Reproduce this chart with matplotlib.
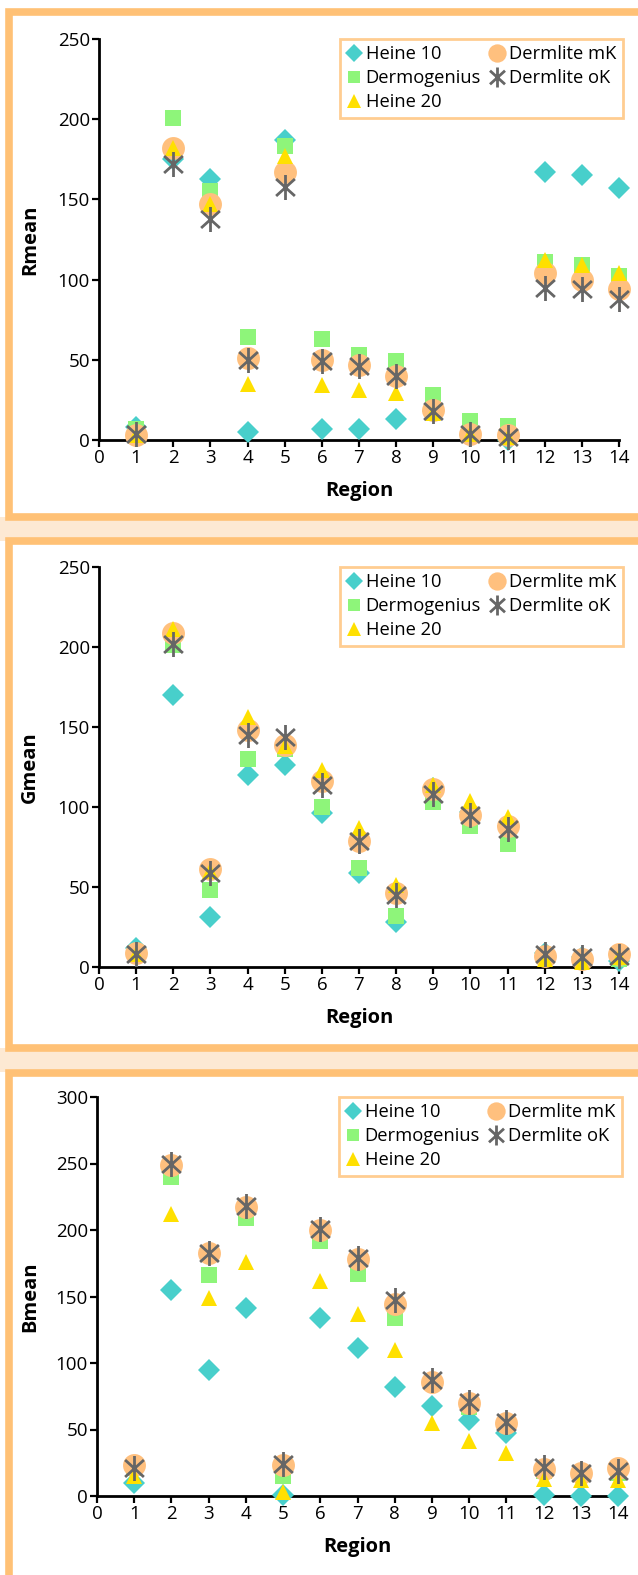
import matplotlib.pyplot as plt
import numpy as np
from matplotlib.path import Path
from matplotlib.patches import Rectangle

plt.rcParams["font.family"] = ["Open Sans", "DejaVu Sans"]

regions = np.arange(1, 15)
series_names = ["Heine 10", "Dermogenius", "Heine 20", "Dermlite mK", "Dermlite oK"]

# Rmean
r_heine10 = [8, 175, 163, 5, 187, 7, 7, 13, 18, 3, 0, 167, 165, 157]
r_dermog = [7, 201, 155, 64, 183, 63, 53, 49, 28, 12, 9, 111, 109, 102]
r_heine20 = [3, 182, 147, 35, 177, 34, 31, 29, 17, 4, 2, 112, 109, 104]
r_mk = [3, 182, 147, 51, 167, 50, 47, 40, 19, 4, 3, 104, 100, 94]
r_ok = [4, 172, 138, 50, 158, 49, 46, 40, 18, 4, 2, 95, 94, 88]

# Gmean
g_heine10 = [12, 170, 31, 120, 126, 96, 59, 28, 112, 97, 88, 9, 6, 4]
g_dermog = [9, 201, 48, 130, 136, 100, 62, 32, 103, 88, 77, 7, 5, 5]
g_heine20 = [8, 211, 60, 156, 138, 123, 87, 51, 114, 104, 94, 5, 3, 6]
g_mk = [9, 209, 61, 148, 139, 116, 79, 46, 111, 95, 88, 7, 5, 8]
g_ok = [8, 202, 59, 145, 144, 114, 79, 45, 108, 95, 86, 8, 6, 7]

# Bmean
b_heine10 = [10, 155, 95, 141, 1, 134, 111, 82, 68, 57, 47, 1, 0, 0]
b_dermog = [21, 240, 166, 209, 15, 192, 167, 134, 86, 67, 55, 19, 17, 17]
b_heine20 = [15, 212, 149, 176, 3, 162, 137, 110, 55, 41, 32, 13, 12, 12]
b_mk = [23, 249, 183, 217, 23, 200, 178, 144, 86, 70, 55, 20, 17, 21]
b_ok = [21, 250, 183, 218, 24, 201, 179, 147, 87, 71, 56, 22, 17, 19]

panels = [
    ("Rmean", [r_heine10, r_dermog, r_heine20, r_mk, r_ok], 250),
    ("Gmean", [g_heine10, g_dermog, g_heine20, g_mk, g_ok], 250),
    ("Bmean", [b_heine10, b_dermog, b_heine20, b_mk, b_ok], 300),
]

W, H = 638, 1575
fig = plt.figure(figsize=(W / 100, H / 100), dpi=100)
fig.patch.set_facecolor("white")

orange = "#FFC176"
peach = "#FDE9D3"


def fx(px):
    return px / W


def fy(py):
    return 1 - py / H


# peach strips between the panels
for y0, y1 in [(517, 541), (1048, 1072)]:
    fig.patches.append(Rectangle((0, fy(y1)), 1, (y1 - y0) / H, facecolor=peach,
                                 edgecolor="none", transform=fig.transFigure, zorder=0))

# orange panel frames
for top, bottom in [(11.5, 517), (541, 1048), (1072.5, 1590)]:
    fig.patches.append(Rectangle((fx(9), fy(bottom)), fx(660 - 9), (bottom - top) / H,
                                 facecolor="white", edgecolor=orange, linewidth=5.5,
                                 transform=fig.transFigure, zorder=1))

# asterisk marker: vertical bar plus an X
star = Path([(0, -1), (0, 1), (-0.75, -0.68), (0.75, 0.68), (-0.75, 0.68), (0.75, -0.68)],
            [Path.MOVETO, Path.LINETO, Path.MOVETO, Path.LINETO, Path.MOVETO, Path.LINETO])

styles = [
    dict(marker="D", color="#48CFCB", markersize=11.5, zorder=3),
    dict(marker="s", color="#8EF57A", markersize=11.5, zorder=4),
    dict(marker="^", color="#FFE000", markersize=12, zorder=6),
    dict(marker="o", color="#FFC07E", markersize=16.5, zorder=5),
    dict(marker=star, color="#666666", markersize=18, markeredgewidth=2.0, zorder=7),
]

# axes boxes in pixels: left, right, top(y max), bottom(y=0)
boxes = [(99, 619, 39, 440), (99, 619, 567, 967), (97, 618, 1097, 1496)]

for (ylab, data, ymax), (l, r, t, b) in zip(panels, boxes):
    ax = fig.add_axes([fx(l), fy(b), (r - l) / W, (b - t) / H])
    ax.set_facecolor("none")
    ax.set_zorder(2)
    for vals, name, st in zip(data, series_names, styles):
        st = dict(st)
        mk = st.pop("marker")
        color = st.pop("color")
        if mk is star:
            ax.plot(regions, vals, linestyle="none", marker=mk, markeredgecolor=color,
                    markerfacecolor="none", clip_on=False, label=name, **st)
        else:
            ax.plot(regions, vals, linestyle="none", marker=mk, color=color,
                    markeredgewidth=0, clip_on=False, label=name, **st)

    ax.set_xlim(0, 14)
    ax.set_ylim(0, ymax)
    ax.set_xticks(np.arange(0, 15))
    ax.set_yticks(np.arange(0, ymax + 1, 50))
    for side in ["top", "right"]:
        ax.spines[side].set_visible(False)
    for side in ["left", "bottom"]:
        ax.spines[side].set_linewidth(2)
        ax.spines[side].set_zorder(2.5)
    ax.tick_params(axis="both", length=5, width=1.6, labelsize=13.5, pad=1.5, color="black")
    ax.set_ylabel(ylab, fontsize=14.5, fontweight="bold")
    ax.set_xlabel("Region", fontsize=14.5, fontweight="bold")
    ax.yaxis.set_label_coords((40 - l) / (r - l), 0.5)
    ax.xaxis.set_label_coords(0.5, -41 / (b - t))

    leg = ax.legend(loc="upper right", bbox_to_anchor=(1.008, 1.0), ncol=2,
                    fontsize=13.2, frameon=True, fancybox=False, borderpad=0.35,
                    handlelength=0.8, handletextpad=0.25, columnspacing=0.5,
                    labelspacing=0.32, borderaxespad=0, markerscale=0.8)
    leg.get_frame().set_edgecolor(orange)
    leg.get_frame().set_linewidth(2)
    leg.set_zorder(10)

fig.savefig("out.png", dpi=100)
